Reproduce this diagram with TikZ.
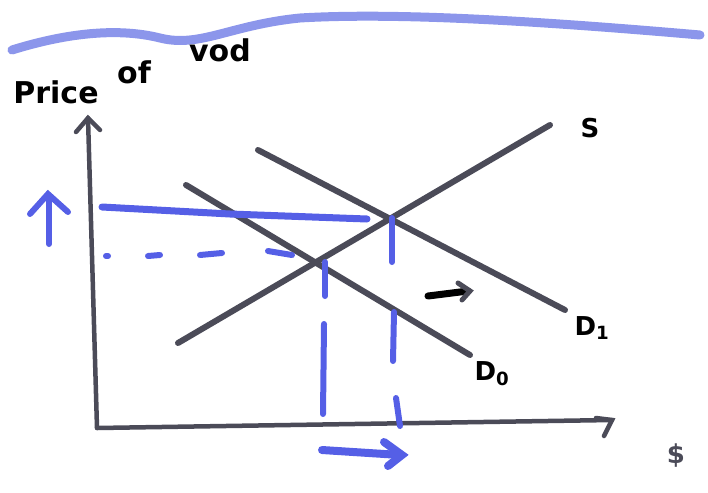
\documentclass[tikz,border=0pt]{standalone}
\usepackage{fontspec}
\setmainfont{DejaVu Sans}
\usetikzlibrary{arrows.meta}
\definecolor{pen}{RGB}{75,75,88}
\definecolor{marker}{RGB}{85,95,230}
\definecolor{faint}{RGB}{140,150,235}
\tikzset{
  curve/.style={draw=pen,line width=6pt,line cap=round},
  axis/.style={draw=pen,line width=4.5pt,line cap=round},
  guide/.style={draw=marker,line width=6pt,line cap=round},
  lbl/.style={font=\bfseries\fontsize{26}{28}\selectfont,text=black,inner sep=0pt},
  biglbl/.style={font=\bfseries\fontsize{30}{32}\selectfont,text=black,inner sep=0pt},
}
\begin{document}
\begin{tikzpicture}[x=1pt,y=-1pt]
\useasboundingbox (0,0) rectangle (708,492);
% wavy top line
\draw[faint,line width=9pt,line cap=round] (12,50) .. controls (70,32) and (120,28) .. (160,38)
  .. controls (200,48) and (230,25) .. (300,18) .. controls (400,12) and (550,22) .. (700,35);
% axes
\coordinate (o) at (97,428);
\coordinate (ytop) at (88,118);
\coordinate (xend) at (612,420);
\draw[axis] (o) -- (ytop);
\draw[axis] (o) -- (xend);
\draw[axis] (76,132) -- (ytop) -- (100,130);
\draw[axis] (596,418) -- (xend) -- (604,436);
% curves
\coordinate (s0) at (178,343); \coordinate (s1) at (550,125);
\coordinate (d00) at (186,185); \coordinate (d01) at (470,355);
\coordinate (d10) at (258,150); \coordinate (d11) at (565,310);
\draw[curve] (s0) -- (s1);
\draw[curve] (d00) -- (d01);
\draw[curve] (d10) -- (d11);
% equilibria
\coordinate (e0) at (322,258);
\coordinate (e1) at (389,213);
% guides: price levels
\draw[guide,line width=7pt] (102,207) -- (230,214) -- (367,219);
\draw[guide] (106,256) -- (108,256);
\draw[guide] (148,256) -- (160,255);
\draw[guide] (200,255) -- (222,253);
\draw[guide] (268,251) -- (292,255);
% guides: quantity levels
\draw[guide] (325,262) -- (325,296);
\draw[guide] (324,324) -- (323,414);
\draw[guide] (392,218) -- (392,262);
\draw[guide] (394,312) -- (393,361);
\draw[guide] (396,398) -- (400,426);
% blue arrows
\draw[guide] (49,244) -- (49,196);
\draw[guide] (30,214) -- (48,194) -- (68,212);
\draw[guide,line width=8pt] (322,450) -- (400,455);
\draw[guide,line width=8pt] (384,442) -- (402,455) -- (388,466);
% black shift arrow
\draw[draw=black,line width=7pt,line cap=round] (428,296) -- (468,291);
\draw[draw=pen,line width=5pt,line cap=round] (458,283) -- (470,291) -- (462,300);
% labels
\node[biglbl] (ylab1) at (56,92) {Price};
\node[biglbl] (ylab2) at (134,72) {of};
\node[biglbl] (ylab3) at (220,50) {vod};
\node[lbl] (slab) at (590,128) {S};
\node[lbl] (d0lab) at (492,374) {D\textsubscript{0}};
\node[lbl] (d1lab) at (592,328) {D\textsubscript{1}};
\node[lbl,text=pen] (xlab) at (676,456) {\$};
\end{tikzpicture}
\end{document}
